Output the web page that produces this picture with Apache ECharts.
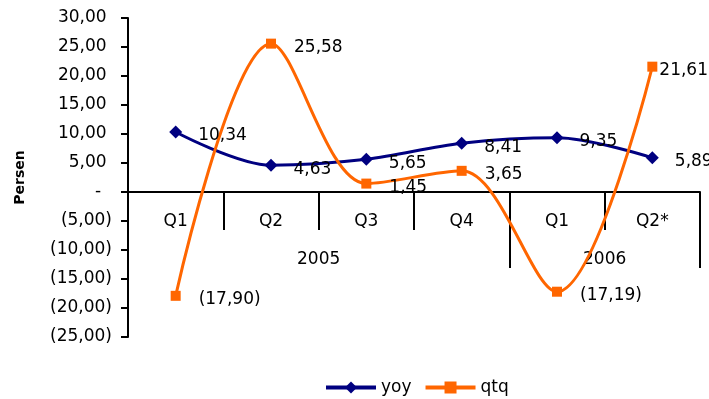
<!DOCTYPE html>
<html>
<head>
<meta charset="utf-8">
<script src="https://cdn.jsdelivr.net/npm/echarts@6/dist/echarts.min.js"></script>
<style>
  html, body { margin: 0; padding: 0; background: #fff; }
  #chart { width: 709px; height: 399px; }
</style>
</head>
<body>
<div id="chart"></div>
<script>
// Quarterly growth, year-on-year vs quarter-to-quarter (percent)
const quarters = ['Q1', 'Q2', 'Q3', 'Q4', 'Q1', 'Q2*'];
const years = ['2005', '2006'];
const yoy = [10.34, 4.63, 5.65, 8.41, 9.35, 5.89];
const qtq = [-17.90, 25.58, 1.45, 3.65, -17.19, 21.61];
const yMin = -25, yMax = 30, yStep = 5;

const FONT = 'DejaVu Sans';
const FS = 17;
const NAVY = '#000080';
const ORANGE = '#FF6600';

const W = 709, H = 399;
const G = { left: 128, top: 18, right: 9, bottom: 62 };
const plotH = H - G.top - G.bottom;
// Lift the category axes from the grid bottom up to the zero line
const zeroLift = -plotH * (0 - yMin) / (yMax - yMin);

// Accounting-style number: comma decimals, negatives in parentheses
function fmt(v) {
  const s = Math.abs(v).toFixed(2).replace('.', ',');
  return v < 0 ? '(' + s + ')' : s;
}
function axisFmt(v) {
  if (v === 0) return '-  ';
  return v < 0 ? fmt(v) : fmt(v) + ' ';
}

const chart = echarts.init(document.getElementById('chart'));
chart.setOption({
  animation: false,
  textStyle: { fontFamily: FONT },
  grid: Object.assign({ outerBoundsMode: 'none', containLabel: false }, G),
  xAxis: [
    {
      type: 'category',
      data: quarters,
      position: 'bottom',
      offset: zeroLift,
      boundaryGap: true,
      axisLine: { onZero: false, lineStyle: { color: '#000', width: 2 } },
      axisTick: { show: true, length: 38, lineStyle: { color: '#000', width: 2 } },
      axisLabel: { margin: 21, color: '#000', fontFamily: FONT, fontSize: FS },
      splitLine: { show: false }
    },
    {
      // Year separators and year labels below the quarters
      type: 'value',
      min: 0,
      max: 6,
      position: 'bottom',
      offset: zeroLift,
      axisLine: { show: false, onZero: false },
      axisTick: { show: true, length: 76, customValues: [4, 6], lineStyle: { color: '#000', width: 2 } },
      axisLabel: {
        show: true,
        customValues: [2, 5],
        margin: 59,
        color: '#000',
        fontFamily: FONT,
        fontSize: FS,
        formatter: function (v) { return v === 2 ? years[0] : years[1]; }
      },
      splitLine: { show: false }
    }
  ],
  yAxis: {
    type: 'value',
    min: yMin,
    max: yMax,
    interval: yStep,
    name: 'Persen',
    nameLocation: 'middle',
    nameGap: 101,
    nameRotate: 90,
    nameTextStyle: { color: '#000', fontFamily: FONT, fontSize: 14, fontWeight: 'bold' },
    axisLine: { show: true, onZero: false, lineStyle: { color: '#000', width: 2 } },
    axisTick: { show: true, length: 7, lineStyle: { color: '#000', width: 2 } },
    axisLabel: { margin: 16, color: '#000', fontFamily: FONT, fontSize: FS, formatter: axisFmt },
    splitLine: { show: false }
  },
  legend: {
    left: 319,
    top: 374,
    itemWidth: 50,
    itemHeight: 15,
    itemGap: 12,
    lineStyle: { width: 4 },
    textStyle: { color: '#000', fontFamily: FONT, fontSize: FS },
    data: ['yoy', 'qtq']
  },
  series: [
    {
      name: 'yoy',
      type: 'line',
      data: yoy,
      smooth: 0.33,
      symbol: 'diamond',
      symbolSize: 13,
      itemStyle: { color: NAVY },
      lineStyle: { color: NAVY, width: 3 },
      label: {
        show: true,
        position: 'right',
        distance: 16,
        offset: [0, 4],
        color: '#000',
        fontFamily: FONT,
        fontSize: FS,
        formatter: function (p) { return fmt(p.value); }
      },
      emphasis: { disabled: true }
    },
    {
      name: 'qtq',
      type: 'line',
      data: qtq.map(function (v, i) {
        return i === 5
          ? { value: v, label: { distance: 2, offset: [0, 4] } }
          : v;
      }),
      smooth: 0.33,
      symbol: 'rect',
      symbolSize: 10,
      itemStyle: { color: ORANGE },
      lineStyle: { color: ORANGE, width: 3 },
      label: {
        show: true,
        position: 'right',
        distance: 18,
        offset: [0, 4],
        color: '#000',
        fontFamily: FONT,
        fontSize: FS,
        formatter: function (p) { return fmt(p.value); }
      },
      emphasis: { disabled: true }
    }
  ]
});
</script>
</body>
</html>
